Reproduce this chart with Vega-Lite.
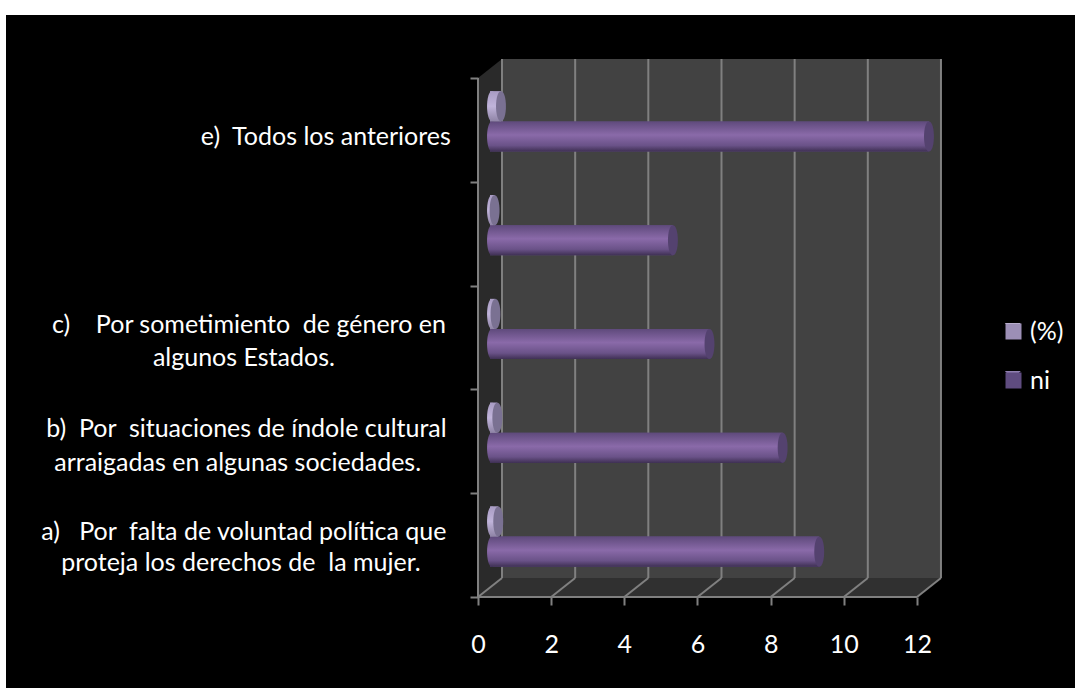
{
  "$schema": "https://vega.github.io/schema/vega-lite/v6.json",
  "width": 1069,
  "height": 673,
  "padding": {"left": 6, "top": 15, "right": 0, "bottom": 0},
  "autosize": {"type": "none"},
  "background": "#ffffff",
  "view": {"fill": "#000000", "stroke": null},
  "config": {"font": "Lato"},
  "datasets": {
    "responses": [
      {"option": "a", "series": "ni", "value": 9},
      {"option": "b", "series": "ni", "value": 8},
      {"option": "c", "series": "ni", "value": 6},
      {"option": "d", "series": "ni", "value": 5},
      {"option": "e", "series": "ni", "value": 12},
      {"option": "a", "series": "(%)", "value": 0.225},
      {"option": "b", "series": "(%)", "value": 0.2},
      {"option": "c", "series": "(%)", "value": 0.15},
      {"option": "d", "series": "(%)", "value": 0.125},
      {"option": "e", "series": "(%)", "value": 0.3}
    ],
    "lines": [
      {"text": "e)\u00a0\u00a0Todos los anteriores", "at": -4.16, "slot": 4.43},
      {"text": "c)\u00a0\u00a0\u00a0\u00a0Por sometimiento\u00a0\u00a0de género en", "at": -6.26, "slot": 2.62},
      {"text": "algunos Estados.", "at": -6.4, "slot": 2.3},
      {"text": "b)\u00a0\u00a0Por\u00a0\u00a0situaciones de índole cultural", "at": -6.33, "slot": 1.62},
      {"text": "arraigadas en algunas sociedades.", "at": -6.57, "slot": 1.29},
      {"text": "a)\u00a0\u00a0\u00a0Por\u00a0\u00a0falta de voluntad política que", "at": -6.4, "slot": 0.627},
      {"text": "proteja los derechos de\u00a0\u00a0la mujer.", "at": -6.48, "slot": 0.328}
    ],
    "grid": [
      {"front": 0, "back": 0.656},
      {"front": 2, "back": 2.656},
      {"front": 4, "back": 4.656},
      {"front": 6, "back": 6.656},
      {"front": 8, "back": 8.656},
      {"front": 10, "back": 10.656},
      {"front": 12, "back": 12.656}
    ],
    "floor": [
      {"depth": 0, "left": 0, "right": 12},
      {"depth": 0.183, "left": 0.656, "right": 12.656}
    ],
    "sidewall": [
      {"along": 0, "low": 0, "high": 5},
      {"along": 0.656, "low": 0.183, "high": 5.183}
    ]
  },
  "resolve": {"scale": {"y": "independent"}},
  "layer": [
    {
      "layer": [
        {
          "data": {"values": [{"left": 0.656, "right": 12.656, "low": 0.183, "high": 5.183}]},
          "mark": {"type": "rect", "color": "#424242"},
          "encoding": {
            "x": {"field": "left", "type": "quantitative", "scale": {"domain": [-12.903, 16.32], "nice": false, "zero": false}, "axis": {"values": [0, 2, 4, 6, 8, 10, 12], "offset": -91, "domain": false, "grid": false, "tickColor": "#808080", "tickWidth": 2, "tickSize": 8, "labelColor": "#ffffff", "labelFontSize": 25, "labelPadding": 27, "title": null}},
            "x2": {"field": "right"},
            "y": {"field": "low", "type": "quantitative", "scale": {"domain": [-0.877, 5.607], "nice": false, "zero": false}, "axis": {"values": [0, 1, 2, 3, 4, 5], "offset": -472, "domain": false, "grid": false, "labels": false, "tickColor": "#808080", "tickWidth": 2, "tickSize": 8, "title": null}},
            "y2": {"field": "high"}
          }
        },
        {
          "data": {"name": "sidewall"},
          "mark": {"type": "area", "orient": "vertical", "color": "#2a2a2a"},
          "encoding": {
            "x": {"field": "along", "type": "quantitative"},
            "y": {"field": "low", "type": "quantitative"},
            "y2": {"field": "high"}
          }
        },
        {
          "data": {"name": "floor"},
          "mark": {"type": "area", "orient": "horizontal", "color": "#303030"},
          "encoding": {
            "y": {"field": "depth", "type": "quantitative"},
            "x": {"field": "left", "type": "quantitative"},
            "x2": {"field": "right"}
          }
        },
        {
          "data": {"name": "grid"},
          "mark": {"type": "rule", "color": "#808080", "strokeWidth": 2},
          "encoding": {
            "x": {"field": "back", "type": "quantitative"},
            "y": {"datum": 0.183, "type": "quantitative"},
            "y2": {"datum": 5.183}
          }
        },
        {
          "data": {"name": "grid"},
          "mark": {"type": "rule", "color": "#808080", "strokeWidth": 2},
          "encoding": {
            "x": {"field": "front", "type": "quantitative"},
            "x2": {"field": "back"},
            "y": {"datum": 0, "type": "quantitative"},
            "y2": {"datum": 0.183}
          }
        },
        {
          "data": {"values": [{"from": 0, "to": 12}]},
          "mark": {"type": "rule", "color": "#808080", "strokeWidth": 2},
          "encoding": {
            "x": {"field": "from", "type": "quantitative"},
            "x2": {"field": "to"},
            "y": {"datum": 0, "type": "quantitative"}
          }
        },
        {
          "data": {"values": [{"from": 0, "to": 5}]},
          "mark": {"type": "rule", "color": "#808080", "strokeWidth": 2},
          "encoding": {
            "x": {"datum": 0, "type": "quantitative"},
            "y": {"field": "from", "type": "quantitative"},
            "y2": {"field": "to"}
          }
        },
        {
          "data": {"name": "lines"},
          "mark": {"type": "text", "color": "#ffffff", "fontSize": 25, "align": "center", "baseline": "middle"},
          "encoding": {
            "x": {"field": "at", "type": "quantitative"},
            "y": {"field": "slot", "type": "quantitative"},
            "text": {"field": "text"}
          }
        },
        {
          "data": {"values": [{"at": 14.62, "slot": 2.563}]},
          "mark": {"type": "point", "filled": true, "opacity": 1, "size": 256, "shape": "M-1,-1L1,-1L0,0Z", "color": "#d2cbe0"},
          "encoding": {
            "x": {"field": "at", "type": "quantitative"},
            "y": {"field": "slot", "type": "quantitative"}
          }
        },
        {
          "data": {"values": [{"at": 14.62, "slot": 2.1}]},
          "mark": {"type": "point", "filled": true, "opacity": 1, "size": 256, "shape": "M-1,-1L1,-1L0,0Z", "color": "#8f7fb0"},
          "encoding": {
            "x": {"field": "at", "type": "quantitative"},
            "y": {"field": "slot", "type": "quantitative"}
          }
        }
      ]
    },
    {
      "data": {"name": "responses"},
      "encoding": {
        "y": {"field": "option", "type": "nominal", "axis": null, "scale": {"domain": ["e", "d", "c", "b", "a"], "range": [54.5, 573.5], "paddingInner": 0.42, "paddingOuter": 0.21}},
        "yOffset": {"field": "series", "type": "nominal", "scale": {"domain": ["(%)", "ni"], "paddingInner": 0, "paddingOuter": 0}},
        "x": {"field": "value", "type": "quantitative"}
      },
      "layer": [
        {
          "mark": {"type": "bar", "xOffset": 12, "x2Offset": 14},
          "encoding": {
            "color": {"field": "series", "type": "nominal", "scale": {"domain": ["(%)", "ni"], "range": ["#9c8fb6", "#5f4c80"]}, "legend": {"title": null, "orient": "none", "legendX": 995, "legendY": 304, "symbolType": "square", "symbolSize": 256, "labelColor": "#ffffff", "labelFontSize": 25, "rowPadding": 23, "labelOffset": 4}}
          }
        },
        {
          "transform": [{"filter": "datum.series === 'ni'"}],
          "mark": {"type": "bar", "xOffset": 12, "x2Offset": 14, "color": {"gradient": "linear", "x1": 0, "y1": 0, "x2": 0, "y2": 1, "stops": [{"offset": 0, "color": "#5f4a7c"}, {"offset": 0.45, "color": "#8a6aa9"}, {"offset": 0.8, "color": "#6a5288"}, {"offset": 1, "color": "#3f3054"}]}}
        },
        {
          "transform": [{"filter": "datum.series === '(%)'"}],
          "mark": {"type": "bar", "xOffset": 12, "x2Offset": 14, "color": {"gradient": "linear", "x1": 0, "y1": 0, "x2": 0, "y2": 1, "stops": [{"offset": 0, "color": "#a99cc4"}, {"offset": 0.5, "color": "#c0b4da"}, {"offset": 1, "color": "#8f84a6"}]}}
        },
        {
          "transform": [{"filter": "datum.series === 'ni'"}],
          "mark": {"type": "point", "filled": true, "shape": "M0,-1C0.44,-1 0.44,1 0,1C-0.44,1 -0.44,-1 0,-1Z", "size": 900, "opacity": 1, "xOffset": 14, "color": {"gradient": "linear", "x1": 0, "y1": 0, "x2": 0, "y2": 1, "stops": [{"offset": 0, "color": "#5f4a7c"}, {"offset": 0.45, "color": "#8a6aa9"}, {"offset": 0.8, "color": "#6a5288"}, {"offset": 1, "color": "#3f3054"}]}},
          "encoding": {"x": {"datum": 0, "type": "quantitative"}}
        },
        {
          "transform": [{"filter": "datum.series === '(%)'"}],
          "mark": {"type": "point", "filled": true, "shape": "M0,-1C0.44,-1 0.44,1 0,1C-0.44,1 -0.44,-1 0,-1Z", "size": 900, "opacity": 1, "xOffset": 14, "color": {"gradient": "linear", "x1": 0, "y1": 0, "x2": 0, "y2": 1, "stops": [{"offset": 0, "color": "#a99cc4"}, {"offset": 0.5, "color": "#c0b4da"}, {"offset": 1, "color": "#8f84a6"}]}},
          "encoding": {"x": {"datum": 0, "type": "quantitative"}}
        },
        {
          "mark": {"type": "point", "filled": true, "shape": "M0,-1C0.44,-1 0.44,1 0,1C-0.44,1 -0.44,-1 0,-1Z", "size": 900, "opacity": 1, "xOffset": 12},
          "encoding": {
            "fill": {"field": "series", "type": "nominal", "scale": {"domain": ["(%)", "ni"], "range": ["#7a7192", "#54426f"]}, "legend": null}
          }
        }
      ]
    }
  ]
}
